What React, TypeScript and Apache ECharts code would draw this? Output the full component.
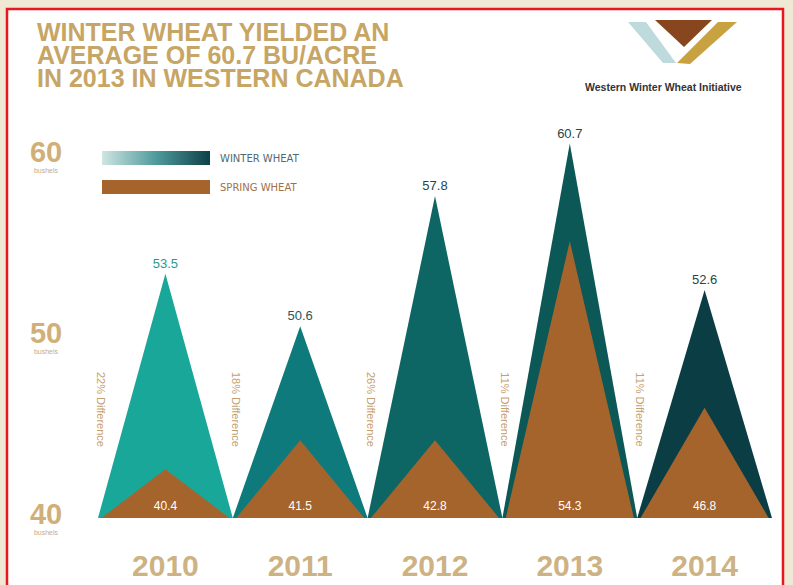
import React, { useEffect, useRef } from "react";
import * as echarts from "echarts";

// ---- data ----
const years = ["2010", "2011", "2012", "2013", "2014"];
const winterYield = [53.5, 50.6, 57.8, 60.7, 52.6];
const springYield = [40.4, 41.5, 42.8, 54.3, 46.8];
// peak heights of the spring triangles as they are drawn in the picture (bu/acre on the axis)
const springPeakDrawn = [42.7, 44.3, 44.3, 55.3, 46.1];
const differenceLabels = [
  "22% Difference",
  "18% Difference",
  "26% Difference",
  "11% Difference",
  "11% Difference",
];
const yTicks = [40, 50, 60];
const yMax = 62;
const seriesNames = ["WINTER WHEAT", "SPRING WHEAT"];
const titleLines = [
  "WINTER WHEAT YIELDED AN",
  "AVERAGE OF 60.7 BU/ACRE",
  "IN 2013 IN WESTERN CANADA",
];
const logoText = "Western Winter Wheat Initiative";
const unitText = "bushels";

// ---- styles ----
const winterColors = ["#19a79a", "#0e7a7b", "#0d6663", "#0c5856", "#0b3d44"];
const winterLabelColors = ["#2a9a90", "#24575a", "#24474b", "#22474a", "#22474a"];
const springColor = "#a6642d";
const gold = "#c6a565";

function triangle(api: any, value: number, widthRatio: number, fill: string) {
  const idx = api.value(0);
  const base = api.coord([idx, yTicks[0]]);
  const peak = api.coord([idx, value]);
  const half = (api.size([1, 0])[0] * widthRatio) / 2;
  return {
    type: "polygon",
    shape: {
      points: [
        [base[0] - half, base[1]],
        [peak[0], peak[1]],
        [base[0] + half, base[1]],
      ],
    },
    style: { fill },
  };
}

export default function App() {
  const ref = useRef<HTMLDivElement>(null);

  useEffect(() => {
    if (!ref.current) return;
    const chart = echarts.init(ref.current, null, { renderer: "svg" });
    const option: any = {
      animation: false,
      backgroundColor: "#eee8d5",
      title: {
        text: titleLines.join("\n"),
        left: 32,
        top: 15,
        textStyle: {
          fontFamily: "Liberation Sans",
          fontWeight: "bold",
          fontSize: 25,
          lineHeight: 23,
          color: gold,
        },
      },
      legend: {
        orient: "vertical",
        left: 97,
        top: 146,
        itemWidth: 108,
        itemHeight: 14,
        itemGap: 15,
        icon: "rect",
        selectedMode: false,
        textStyle: {
          fontFamily: "DejaVu Sans",
          fontSize: 10,
          padding: [0, 0, 0, 5],
        },
        data: [
          { name: seriesNames[0], textStyle: { color: "#4f6a6c" } },
          { name: seriesNames[1], textStyle: { color: "#a07048" } },
        ],
      },
      grid: { left: 98, right: 21, top: 120, bottom: 67 },
      xAxis: {
        type: "category",
        data: years,
        axisLine: { show: false },
        axisTick: { show: false },
        axisLabel: {
          margin: 32,
          fontFamily: "Liberation Sans",
          fontWeight: "bold",
          fontSize: 30,
          color: "#cdb283",
        },
      },
      yAxis: {
        type: "value",
        min: yTicks[0],
        max: yMax,
        interval: yTicks[1] - yTicks[0],
        splitLine: { show: false },
        axisLine: { show: false },
        axisTick: { show: false },
        axisLabel: {
          align: "center",
          margin: 52,
          formatter: (v: number) =>
            yTicks.indexOf(v) >= 0 ? `{a|${v}}\n{b|${unitText}}` : "",
          rich: {
            a: {
              fontFamily: "Liberation Sans",
              fontWeight: "bold",
              fontSize: 29,
              lineHeight: 28,
              color: "#d0af78",
              align: "center",
            },
            b: {
              fontFamily: "Liberation Sans",
              fontSize: 7,
              lineHeight: 9,
              color: "#c4ad88",
              align: "center",
            },
          },
        },
      },
      series: [
        {
          name: seriesNames[0],
          type: "custom",
          z: 2,
          itemStyle: {
            color: {
              type: "linear",
              x: 0,
              y: 0,
              x2: 1,
              y2: 0,
              colorStops: [
                { offset: 0, color: "#cfe5e2" },
                { offset: 0.5, color: "#4f9a9c" },
                { offset: 1, color: "#0d4148" },
              ],
            },
          },
          data: winterYield.map((v, i) => [i, v]),
          renderItem: (params: any, api: any) => {
            const i = params.dataIndex;
            const v = api.value(1);
            const peak = api.coord([api.value(0), v]);
            return {
              type: "group",
              children: [
                triangle(api, v, 1, winterColors[i]),
                {
                  type: "text",
                  x: peak[0],
                  y: peak[1] - 4,
                  style: {
                    text: String(v),
                    fill: winterLabelColors[i],
                    fontFamily: "Liberation Sans",
                    fontSize: 13,
                    align: "center",
                    verticalAlign: "bottom",
                  },
                },
              ],
            };
          },
        },
        {
          name: seriesNames[1],
          type: "custom",
          z: 3,
          itemStyle: { color: springColor },
          data: springPeakDrawn.map((v, i) => [i, v, springYield[i]]),
          renderItem: (params: any, api: any) => {
            const base = api.coord([api.value(0), yTicks[0]]);
            return {
              type: "group",
              children: [
                triangle(api, api.value(1), 0.95, springColor),
                {
                  type: "text",
                  x: base[0],
                  y: base[1] - 6,
                  style: {
                    text: String(api.value(2)),
                    fill: "#ffffff",
                    fontFamily: "Liberation Sans",
                    fontSize: 12,
                    align: "center",
                    verticalAlign: "bottom",
                  },
                },
              ],
            };
          },
        },
        {
          type: "custom",
          z: 4,
          silent: true,
          data: years.map((_, i) => [i, 46]),
          renderItem: (params: any, api: any) => {
            const pt = api.coord([api.value(0), api.value(1)]);
            const bw = api.size([1, 0])[0];
            return {
              type: "text",
              x: pt[0] - bw / 2 + 3,
              y: pt[1],
              rotation: -Math.PI / 2,
              style: {
                text: differenceLabels[params.dataIndex],
                fill: "#c59f6f",
                fontFamily: "Liberation Sans",
                fontSize: 11,
                align: "center",
                verticalAlign: "middle",
              },
            };
          },
        },
      ],
      graphic: [
        {
          type: "rect",
          z: -100,
          silent: true,
          shape: { x: 7, y: 9, width: 776, height: 600 },
          style: { fill: "#ffffff", stroke: "#e8161d", lineWidth: 2.5 },
        },
        {
          type: "polygon",
          z: 10,
          shape: { points: [[628, 22], [646, 22], [676, 63], [663, 63]] },
          style: { fill: "#bfdadd" },
        },
        {
          type: "polygon",
          z: 10,
          shape: { points: [[718, 22], [737, 22], [690, 64], [677, 63]] },
          style: { fill: "#c8a140" },
        },
        {
          type: "polygon",
          z: 11,
          shape: { points: [[655, 20], [712, 20], [684, 47]] },
          style: { fill: "#87461d" },
        },
        {
          type: "text",
          z: 10,
          x: 585,
          y: 87,
          style: {
            text: logoText,
            fontFamily: "Liberation Sans",
            fontWeight: "bold",
            fontSize: 10.5,
            fill: "#333333",
            verticalAlign: "middle",
          },
        },
      ],
    };
    chart.setOption(option);
    return () => chart.dispose();
  }, []);

  return (
    <div
      ref={ref}
      style={{ position: "fixed", left: 0, top: 0, width: 793, height: 585 }}
    />
  );
}
